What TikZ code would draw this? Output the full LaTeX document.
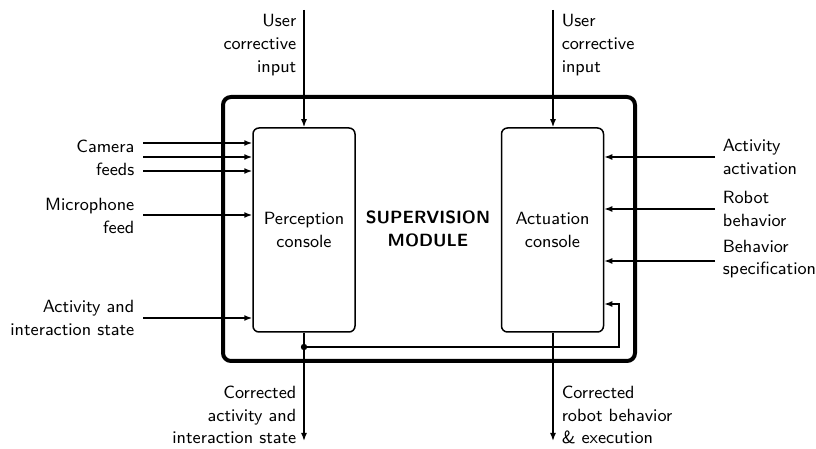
\documentclass[tikz,border=0pt]{standalone}
\usetikzlibrary{arrows.meta,calc}
\begin{document}
\begin{tikzpicture}[x=0.5pt,y=-0.5pt,
  font=\sffamily\fontsize{8.85}{11.3}\selectfont,
  line width=0.75pt,
  arr/.style={-{Latex[length=4pt,width=3pt]}},
  console/.style={draw,rounded corners=3pt,minimum width=51pt,minimum height=102pt,align=center,inner sep=0pt},
  lblr/.style={align=right,anchor=east,inner sep=0pt},
  lbll/.style={align=left,anchor=west,inner sep=0pt}]
\useasboundingbox (0,0) rectangle (816,449);
\draw[line width=2pt,rounded corners=4pt] (223,97) rectangle (635,361);
\node[font=\sffamily\bfseries\fontsize{8.85}{11.3}\selectfont,align=center] (sup) at (428,229) {SUPERVISION\\MODULE};
\node[console] (pc) at (304,230) {Perception\\console};
\node[console] (ac) at (552.5,230) {Actuation\\console};
% top inputs
\coordinate (t1) at (304,10);
\coordinate (t2) at (553,10);
\draw[arr] (t1) -- (pc.north);
\draw[arr] (t2) -- (ac.north -| t2);
\node[lblr] (ut1) at (297,45) {User\\corrective\\input};
\node[lbll] (ut2) at (561,45) {User\\corrective\\input};
% left inputs
\coordinate (c1) at (143,143);
\coordinate (c2) at (143,157);
\coordinate (c3) at (143,171);
\coordinate (m1) at (143,215);
\coordinate (a1) at (143,318);
\foreach \c in {c1,c2,c3,m1,a1}{\draw[arr] (\c) -- (\c -| pc.west);}
\node[lblr] (lc) at (135,158) {Camera\\feeds};
\node[lblr] (lm) at (135,216) {Microphone\\feed};
\node[lblr] (la) at (135,318) {Activity and\\interaction state};
% right inputs
\coordinate (r1) at (715,157);
\coordinate (r2) at (715,209);
\coordinate (r3) at (715,261);
\foreach \c in {r1,r2,r3}{\draw[arr] (\c) -- (\c -| ac.east);}
\node[lbll] (lr1) at (722,157) {Activity\\activation};
\node[lbll] (lr2) at (722,209) {Robot\\behavior};
\node[lbll] (lr3) at (722,259) {Behavior\\specification};
% outputs
\coordinate (b1) at (304,441);
\coordinate (b2) at (553,441);
\draw[arr] (pc.south) -- (b1);
\draw[arr] (ac.south -| b2) -- (b2);
\node[lblr] (lb1) at (297,415) {Corrected\\activity and\\interaction state};
\node[lbll] (lb2) at (561,415) {Corrected\\robot behavior\\\& execution};
% feedback
\coordinate (fd) at (304,347);
\fill (fd) circle (1.6pt);
\draw[arr] (fd) -- (619,347) -- (619,304) -- (ac.east |- 0,304);
\end{tikzpicture}
\end{document}
